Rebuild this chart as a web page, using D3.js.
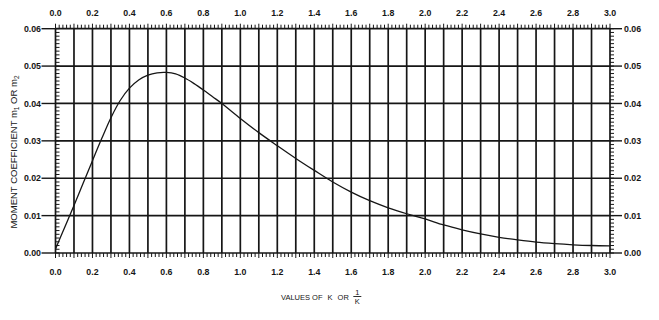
<!DOCTYPE html>
<html>
<head>
<meta charset="utf-8">
<script src="https://cdn.jsdelivr.net/npm/d3@7"></script>
<style>
  body { margin: 0; background: #fff; }
  svg { display: block; font-family: "Liberation Sans", Arial, sans-serif; }
</style>
</head>
<body>
<svg id="chart"></svg>
<script>
// curve: K (or 1/K) vs moment coefficient
const kValues = [0, 0.05, 0.1, 0.15, 0.2, 0.25, 0.3, 0.35, 0.4, 0.45, 0.5, 0.55, 0.6, 0.65, 0.7, 0.75, 0.8, 0.85, 0.9,
  1.0, 1.1, 1.2, 1.3, 1.4, 1.5, 1.6, 1.7, 1.8, 1.9, 2.0, 2.1, 2.2, 2.3, 2.4, 2.5, 2.6, 2.7, 2.8, 2.9, 3.0];
const moment = [0.0011, 0.0069, 0.0127, 0.0187, 0.0247, 0.0306, 0.0362, 0.0408, 0.0441, 0.0463, 0.0476, 0.0482, 0.0483,
  0.0479, 0.0468, 0.0453, 0.0436, 0.0418, 0.0400,
  0.0360, 0.0322, 0.0287, 0.0253, 0.0221, 0.0190, 0.0163, 0.0140, 0.0121, 0.0105, 0.0091,
  0.0075, 0.0062, 0.0051, 0.0042, 0.0035, 0.0029, 0.0025, 0.0022, 0.0020, 0.0019];

const xTickLabels = ["0.0", "0.2", "0.4", "0.6", "0.8", "1.0", "1.2", "1.4", "1.6", "1.8", "2.0", "2.2", "2.4", "2.6", "2.8", "3.0"];
const yTickLabels = ["0.00", "0.01", "0.02", "0.03", "0.04", "0.05", "0.06"];

const width = 659;
const height = 320;
const margin = { top: 28.7, right: 49, bottom: 67, left: 55.5 };
const ink = "#161616";

const svg = d3.select("#chart").attr("width", width).attr("height", height);

const x = d3.scaleLinear().domain([0, 3]).range([margin.left, width - margin.right]);
const y = d3.scaleLinear().domain([0, 0.06]).range([height - margin.bottom, margin.top]);

const x0 = x(0), x1 = x(3), y0 = y(0), y1 = y(0.06);

// grid: every 0.1 vertically, every 0.01 horizontally
const vLines = d3.range(0, 31).map((i) => i / 10);
const hLines = d3.range(0, 7).map((i) => i / 100);

svg.append("g")
  .selectAll("line")
  .data(vLines)
  .enter()
  .append("line")
  .attr("x1", (d) => x(d))
  .attr("x2", (d) => x(d))
  .attr("y1", y1)
  .attr("y2", y0)
  .style("stroke", ink)
  .style("stroke-width", 1.7);

svg.append("g")
  .selectAll("line")
  .data(hLines)
  .enter()
  .append("line")
  .attr("x1", x0)
  .attr("x2", x1)
  .attr("y1", (d) => y(d))
  .attr("y2", (d) => y(d))
  .style("stroke", ink)
  .style("stroke-width", 1.7);

// minor ticks top / bottom every 0.02, outward
const xMinor = d3.range(0, 151).map((i) => i / 50);
const ticks = svg.append("g").style("stroke", ink).style("stroke-width", 1);

ticks.selectAll(".tt")
  .data(xMinor)
  .enter()
  .append("line")
  .attr("x1", (d) => x(d))
  .attr("x2", (d) => x(d))
  .attr("y1", y1)
  .attr("y2", (d) => y1 - (Math.round(d * 50) % 5 === 0 ? 5 : 4));

ticks.selectAll(".bt")
  .data(xMinor)
  .enter()
  .append("line")
  .attr("x1", (d) => x(d))
  .attr("x2", (d) => x(d))
  .attr("y1", y0)
  .attr("y2", (d) => y0 + (Math.round(d * 50) % 5 === 0 ? 5 : 4));

// left minor ticks inside, right minor ticks outside, every 0.001
const yMinor = d3.range(0, 61).map((i) => i / 1000);

ticks.selectAll(".lt")
  .data(yMinor)
  .enter()
  .append("line")
  .attr("x1", x0)
  .attr("x2", x0 + 4)
  .attr("y1", (d) => y(d))
  .attr("y2", (d) => y(d));

ticks.selectAll(".rt")
  .data(yMinor)
  .enter()
  .append("line")
  .attr("x1", x1)
  .attr("x2", x1 + 4)
  .attr("y1", (d) => y(d))
  .attr("y2", (d) => y(d));

// major ticks on left and right
ticks.selectAll(".lm")
  .data(hLines)
  .enter()
  .append("line")
  .attr("x1", x0 - 14)
  .attr("x2", x0)
  .attr("y1", (d) => y(d))
  .attr("y2", (d) => y(d))
  .style("stroke-width", 1.4);

ticks.selectAll(".rm")
  .data(hLines)
  .enter()
  .append("line")
  .attr("x1", x1)
  .attr("x2", x1 + 12)
  .attr("y1", (d) => y(d))
  .attr("y2", (d) => y(d))
  .style("stroke-width", 1.4);

// tick labels
const labels = svg.append("g")
  .style("font-size", "8.8px")
  .style("font-weight", "bold")
  .style("fill", ink);

labels.selectAll(".xt")
  .data(xTickLabels)
  .enter()
  .append("text")
  .attr("x", (d) => x(+d))
  .attr("y", 16)
  .attr("text-anchor", "middle")
  .text((d) => d);

labels.selectAll(".xb")
  .data(xTickLabels)
  .enter()
  .append("text")
  .attr("x", (d) => x(+d))
  .attr("y", 275)
  .attr("text-anchor", "middle")
  .text((d) => d);

labels.selectAll(".yl")
  .data(yTickLabels)
  .enter()
  .append("text")
  .attr("x", x0 - 14.5)
  .attr("y", (d) => y(+d))
  .attr("dy", "0.35em")
  .attr("text-anchor", "end")
  .text((d) => d);

labels.selectAll(".yr")
  .data(yTickLabels)
  .enter()
  .append("text")
  .attr("x", x1 + 14)
  .attr("y", (d) => y(+d))
  .attr("dy", "0.35em")
  .text((d) => d);

// the curve
const line = d3.line()
  .x((d, i) => x(kValues[i]))
  .y((d) => y(d))
  .curve(d3.curveCatmullRom.alpha(0.5));

svg.append("path")
  .datum(moment)
  .attr("d", line)
  .style("fill", "none")
  .style("stroke", ink)
  .style("stroke-width", 1.3);

// y axis title
const yTitle = svg.append("text")
  .attr("transform", "translate(17, 152) rotate(-90)")
  .attr("text-anchor", "middle")
  .style("font-size", "9.5px")
  .style("fill", ink);
yTitle.append("tspan").text("MOMENT COEFFICIENT m");
yTitle.append("tspan").attr("dy", 2).style("font-size", "6.5px").text("1");
yTitle.append("tspan").attr("dy", -2).text(" OR m");
yTitle.append("tspan").attr("dy", 2).style("font-size", "6.5px").text("2");

// x axis title with 1/K fraction, pieces laid out one after another
const xTitle = svg.append("g").style("fill", ink).style("font-size", "7.5px");
let cx = 281;
["VALUES OF", "K", "OR"].forEach((s) => {
  const t = xTitle.append("text").attr("x", cx).attr("y", 300).text(s);
  cx += t.node().getComputedTextLength() + 5;
});
const fx = cx + 3.5;
xTitle.append("text").attr("x", fx).attr("y", 294.5).attr("text-anchor", "middle").text("1");
xTitle.append("line")
  .attr("x1", fx - 4).attr("x2", fx + 4)
  .attr("y1", 296.5).attr("y2", 296.5)
  .style("stroke", ink).style("stroke-width", 0.9);
xTitle.append("text").attr("x", fx).attr("y", 304).attr("text-anchor", "middle").text("K");
</script>
</body>
</html>
